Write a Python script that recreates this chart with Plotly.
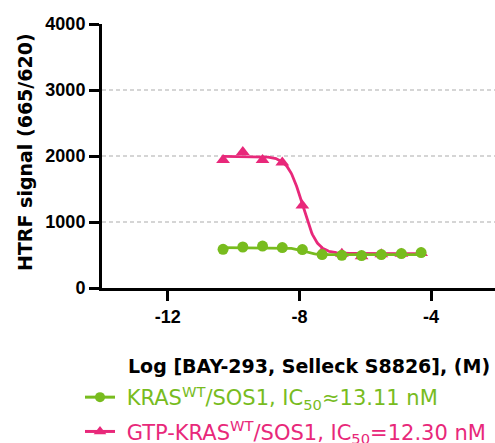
import numpy as np
import plotly.graph_objects as go

# ---- data ----
log_conc = [-10.32, -9.72, -9.12, -8.52, -7.91, -7.31, -6.71, -6.11, -5.51, -4.90, -4.30]
kras_sos1 = [586, 621, 636, 612, 582, 506, 495, 491, 506, 521, 536]
gtp_kras_sos1 = [1940, 2060, 1940, 1900, 1250, 540, 520, 480, 510, 520, 530]

# 4-parameter logistic fit parameters (IC50 values from the legend)
kras_top, kras_bottom, kras_ic50_nM, kras_hill = 612, 505, 13.11, 2.5
gtp_top, gtp_bottom, gtp_ic50_nM, gtp_hill = 1995, 522, 12.30, 2.0

x_tickvals = [-12, -8, -4]
x_ticktext = ["-12", "-8", "-4"]
y_tickvals = [0, 1000, 2000, 3000, 4000]
y_ticktext = ["0", "1000", "2000", "3000", "4000"]
grid_vals = [1000, 2000, 3000]

GREEN = "#78bc1e"
PINK = "#e8287a"

name_kras = ('<span style="color:%s">\u00a0KRAS<sup>WT</sup>/SOS1, IC<sub>50</sub>\u224813.11 nM</span>' % GREEN)
name_gtp = ('<span style="color:%s">\u00a0GTP-KRAS<sup>WT</sup>/SOS1, IC<sub>50</sub>=12.30 nM</span>' % PINK)


def four_pl(x, top, bottom, ic50_nM, hill):
    x = np.asarray(x)
    return bottom + (top - bottom) / (1 + 10 ** ((x - np.log10(ic50_nM * 1e-9)) * hill))


xs = np.linspace(min(log_conc), max(log_conc), 300)

fig = go.Figure()
# pink (drawn first, beneath)
fig.add_trace(go.Scatter(x=xs, y=four_pl(xs, gtp_top, gtp_bottom, gtp_ic50_nM, gtp_hill),
                         mode="lines", line=dict(color=PINK, width=2.8), showlegend=False, hoverinfo="skip"))
fig.add_trace(go.Scatter(x=log_conc, y=gtp_kras_sos1, mode="markers",
                         marker=dict(symbol="triangle-up", size=12, color=PINK), showlegend=False))
# green
fig.add_trace(go.Scatter(x=xs, y=four_pl(xs, kras_top, kras_bottom, kras_ic50_nM, kras_hill),
                         mode="lines", line=dict(color=GREEN, width=2.8), showlegend=False, hoverinfo="skip"))
fig.add_trace(go.Scatter(x=log_conc, y=kras_sos1, mode="markers",
                         marker=dict(symbol="circle", size=11, color=GREEN), showlegend=False))
# legend entries
fig.add_trace(go.Scatter(x=[None], y=[None], mode="lines+markers", name=name_kras, legendgroup="a",
                         line=dict(color=GREEN, width=3), marker=dict(symbol="circle", size=10, color=GREEN)))
fig.add_trace(go.Scatter(x=[None], y=[None], mode="lines+markers", name=name_gtp, legendgroup="b",
                         line=dict(color=PINK, width=3), marker=dict(symbol="triangle-up", size=11, color=PINK)))

for v in grid_vals:
    fig.add_hline(y=v, line=dict(color="#ababab", width=1.2, dash="4px,3px"), layer="below")

PLOT_L, PLOT_T, PLOT_B = 102, 24, 288
W, H = 495, 443
plot_w = W - PLOT_L
plot_h = PLOT_B - PLOT_T

tickfont = dict(family="Liberation Sans, Arial", size=18, color="black", weight="bold")
titlefont = dict(family="DejaVu Sans", size=19, color="black", weight="bold")

fig.update_layout(
    width=W, height=H,
    margin=dict(l=PLOT_L, r=0, t=PLOT_T, b=H - PLOT_B, autoexpand=False),
    paper_bgcolor="white", plot_bgcolor="white",
    showlegend=True,
    legend=dict(x=(80 - PLOT_L) / plot_w, xanchor="left", y=(PLOT_B - 377) / plot_h, yanchor="top",
                font=dict(family="DejaVu Sans", size=21), bgcolor="rgba(0,0,0,0)",
                traceorder="grouped", tracegroupgap=4, itemwidth=30),
    xaxis=dict(range=[-14, -14 + plot_w / 32.9], tickvals=x_tickvals, ticktext=x_ticktext,
               showgrid=False, zeroline=False, showline=True, linecolor="black", linewidth=3,
               ticks="outside", ticklen=10, tickwidth=3, tickcolor="black", tickfont=tickfont),
    yaxis=dict(range=[0, 4000], tickvals=y_tickvals, ticktext=y_ticktext,
               showgrid=False, zeroline=False, showline=True, linecolor="black", linewidth=3,
               ticks="outside", ticklen=10, tickwidth=3, tickcolor="black", tickfont=tickfont),
)

fig.add_annotation(text="HTRF signal (665/620)", xref="paper", yref="paper",
                   x=(25 - PLOT_L) / plot_w, y=(PLOT_B - 152) / plot_h, xanchor="center", yanchor="middle",
                   textangle=-90, showarrow=False, font=titlefont)
fig.add_annotation(text="Log [BAY-293, Selleck S8826], (M)", xref="paper", yref="paper",
                   x=(309 - PLOT_L) / plot_w, y=(PLOT_B - 366) / plot_h, xanchor="center", yanchor="middle",
                   showarrow=False, font=titlefont)

fig.write_html("out.html")
